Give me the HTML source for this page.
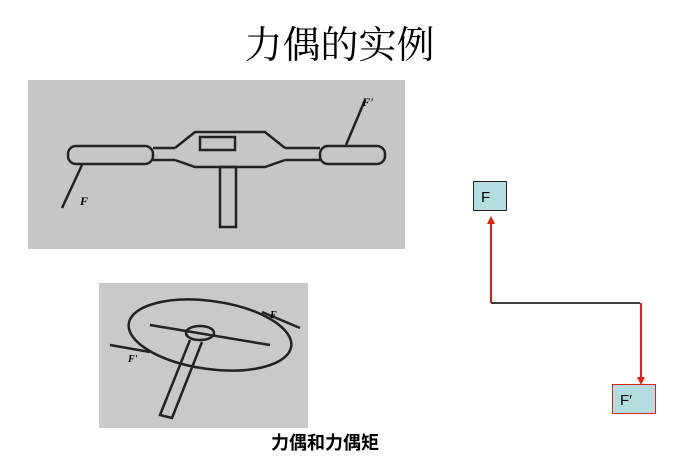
<!DOCTYPE html>
<html><head><meta charset="utf-8"><style>
body{margin:0;width:679px;height:469px;background:#fff;position:relative;overflow:hidden;font-family:"Liberation Sans","Noto Sans CJK SC",sans-serif}
.t{position:absolute;left:0;width:679px;text-align:center;top:24px;font-size:38px;line-height:44px;font-family:"Liberation Serif","Noto Serif CJK SC",serif}
.c{position:absolute;left:230px;width:190px;text-align:center;top:430px;font-size:18px;line-height:26px;font-weight:bold}
</style></head><body>
<div class="t">力偶的实例</div>
<svg width="679" height="469" style="position:absolute;left:0;top:0">
<defs><marker id="a" markerWidth="4" markerHeight="4" refX="2" refY="2" orient="auto"><path d="M0,0L4,2L0,4z" fill="#d21"/></marker></defs>
<rect x="28" y="80" width="377" height="169" fill="#c6c6c6"/>
<g stroke="#222" stroke-width="2.5" fill="none">
<rect x="68" y="146" width="85" height="18" rx="8"/>
<line x1="153" y1="148" x2="175" y2="148"/><line x1="153" y1="160" x2="175" y2="160"/>
<path d="M175,148 L195,132 L265,132 L285,148 M175,160 L195,167 L265,167 L285,160"/>
<rect x="200" y="137" width="35" height="13"/>
<line x1="285" y1="148" x2="320" y2="148"/><line x1="285" y1="160" x2="320" y2="160"/>
<rect x="320" y="146" width="65" height="18" rx="8"/>
<rect x="220" y="167" width="16" height="60"/>
<path d="M62,208 L82,165 M365,100 L346,145"/>
</g>
<text x="80" y="205" font-size="12" font-style="italic" font-weight="bold" font-family="Liberation Serif">F</text>
<text x="362" y="106" font-size="12" font-style="italic" font-weight="bold" font-family="Liberation Serif">F'</text>
<rect x="99" y="283" width="209" height="145" fill="#c9c9c9"/>
<g stroke="#222" stroke-width="2.5" fill="none">
<ellipse cx="210" cy="335" rx="82" ry="34" transform="rotate(8 210 335)"/>
<line x1="150" y1="325" x2="270" y2="345"/>
<ellipse cx="200" cy="333" rx="14" ry="7"/>
<path d="M190,340 L160,415 L172,418 L202,342"/>
<path d="M262,312 L300,328 M110,345 L150,352"/>
</g>
<text x="270" y="318" font-size="10" font-style="italic" font-weight="bold" font-family="Liberation Serif">F</text>
<text x="128" y="362" font-size="10" font-style="italic" font-weight="bold" font-family="Liberation Serif">F'</text>
<rect x="473.5" y="181.5" width="33" height="29" fill="#b4dde2" stroke="#222"/>
<text x="481" y="202" font-size="15">F</text>
<line x1="491" y1="303" x2="640" y2="303" stroke="#000" stroke-width="1.5"/>
<line x1="491" y1="303" x2="491" y2="220" stroke="#d21" stroke-width="2" marker-end="url(#a)"/>
<line x1="641" y1="303" x2="641" y2="381" stroke="#d21" stroke-width="2" marker-end="url(#a)"/>
<rect x="612.5" y="384.5" width="43" height="29" fill="#b4dde2" stroke="#d21"/>
<text x="620" y="405" font-size="15">F′</text>
</svg>
<div class="c">力偶和力偶矩</div>
</body></html>
